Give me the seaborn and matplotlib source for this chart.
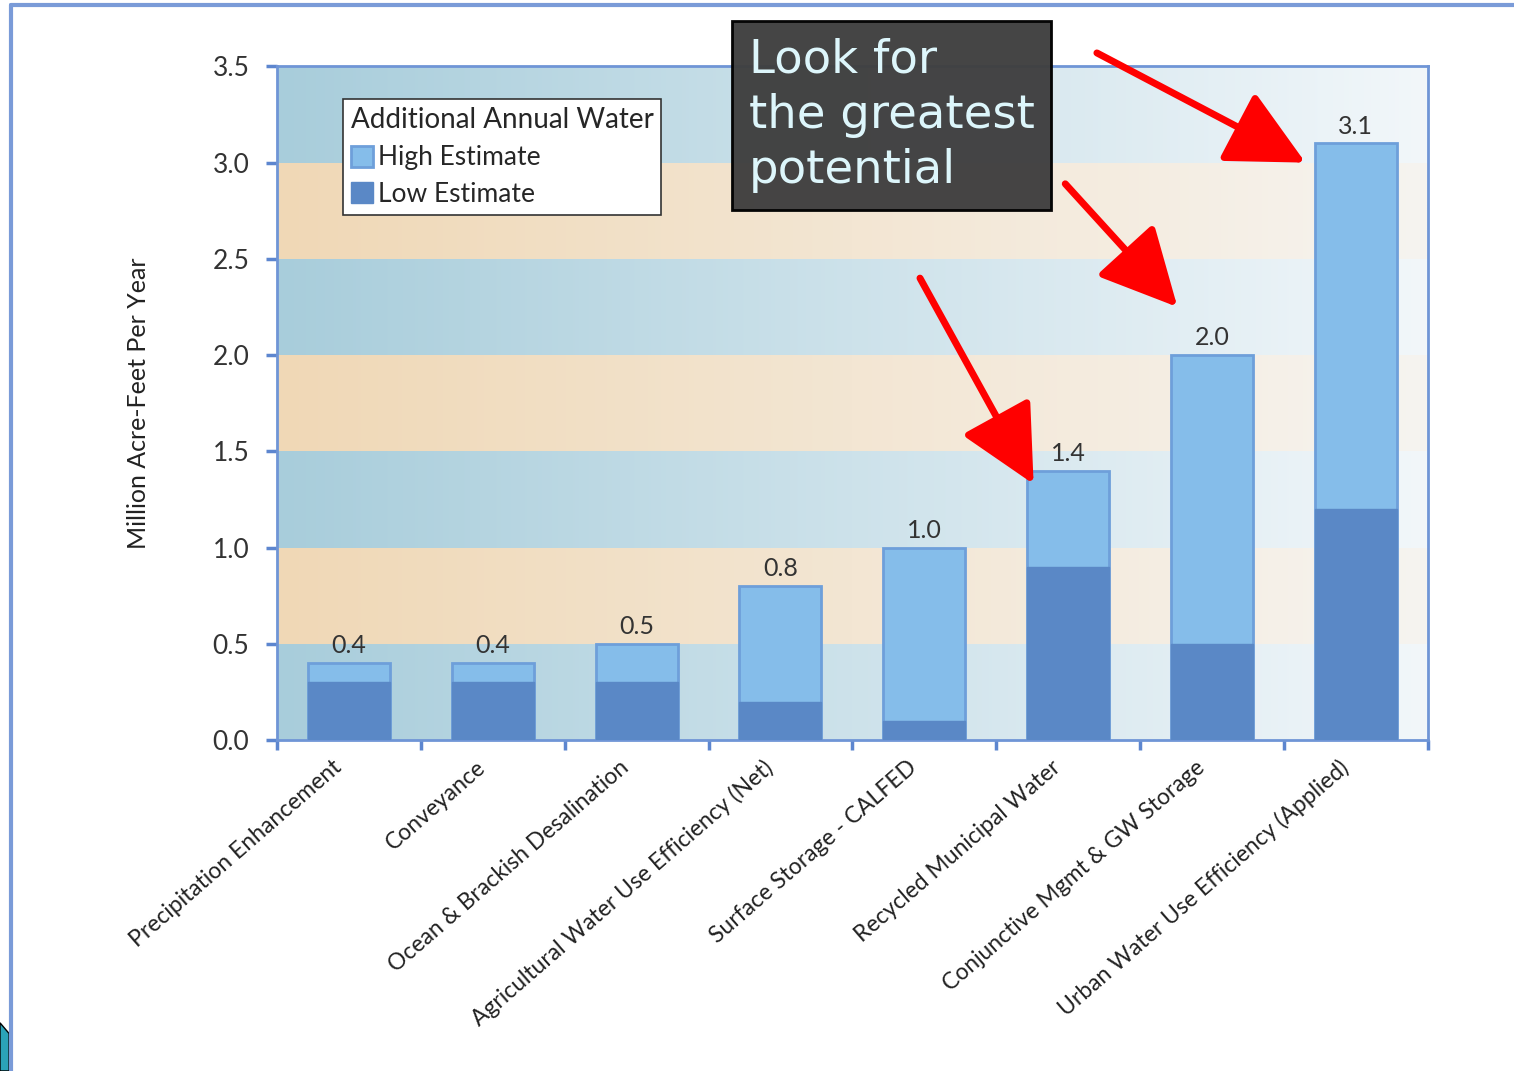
import numpy as np
import pandas as pd
import seaborn as sns
import matplotlib.pyplot as plt
from matplotlib.lines import Line2D
from matplotlib.patches import Polygon

# Dados do gráfico
categorias = ["Precipitation Enhancement", "Conveyance", "Ocean & Brackish Desalination",
              "Agricultural Water Use Efficiency (Net)", "Surface Storage - CALFED",
              "Recycled Municipal Water", "Conjunctive Mgmt & GW Storage",
              "Urban Water Use Efficiency (Applied)"]
alta = [0.4, 0.4, 0.5, 0.8, 1.0, 1.4, 2.0, 3.1]
baixa = [0.3, 0.3, 0.3, 0.2, 0.1, 0.9, 0.5, 1.2]
y_ticks = [0.0, 0.5, 1.0, 1.5, 2.0, 2.5, 3.0, 3.5]

df = pd.DataFrame({"Categoria": categorias, "Alta": alta, "Baixa": baixa})

sns.set_style("white")
plt.rcParams['font.family'] = ['Lato', 'DejaVu Sans']

fig = plt.figure(figsize=(15.14, 10.71), dpi=100)
ax = fig.add_axes([0.183, 0.309, 0.760, 0.629])

# Faixas de fundo com gradiente horizontal
azul_esq, azul_dir = np.array([168, 205, 219]) / 255, np.array([242, 247, 250]) / 255
lar_esq, lar_dir = np.array([240, 216, 182]) / 255, np.array([246, 244, 240]) / 255
t = np.linspace(0, 1, 300)[None, :, None]
for k in range(len(y_ticks) - 1):
    c0, c1 = (azul_esq, azul_dir) if k % 2 == 0 else (lar_esq, lar_dir)
    grad = c0 + (c1 - c0) * t
    ax.imshow(grad, extent=(-0.5, len(categorias) - 0.5, y_ticks[k], y_ticks[k + 1]),
              aspect="auto", zorder=0, interpolation="bilinear")

sns.barplot(data=df, x="Categoria", y="Alta", color="#85BDEA", saturation=1,
            width=0.57, edgecolor="#6E9FDA", linewidth=2, label="High Estimate", ax=ax, zorder=2)
sns.barplot(data=df, x="Categoria", y="Baixa", color="#5A88C6", saturation=1,
            width=0.57, edgecolor="#5A88C6", linewidth=1, label="Low Estimate", ax=ax, zorder=3)

for i, v in enumerate(alta):
    ax.text(i, v + 0.03, f"{v:.1f}", ha="center", va="bottom", fontsize=18, color="#333333", zorder=4)

ax.set_xlim(-0.5, len(categorias) - 0.5)
ax.set_ylim(0, 3.5)
ax.set_yticks(y_ticks)
ax.set_yticklabels([f"{v:.1f}" for v in y_ticks], fontsize=19, color="#333333")
# rótulos levemente à esquerda do centro da barra, como no original
ax.set_xticks(np.arange(len(categorias)) - 0.12)
ax.set_xticklabels(categorias, rotation=41, ha="right", rotation_mode="anchor",
                   fontsize=16.5, color="#222222")
ax.tick_params(axis="x", length=0, pad=12)
ax.set_xticks(np.arange(-0.5, len(categorias)), minor=True)
ax.tick_params(axis="x", which="minor", length=7, width=2.5, color="#5D86CF", direction="out", bottom=True)
ax.tick_params(axis="y", length=8, width=2.5, color="#5D86CF", direction="out", left=True, pad=12)
ax.set_xlabel("")
ax.set_ylabel("Million Acre-Feet Per Year", fontsize=18, color="#222222", labelpad=45)
for s in ax.spines.values():
    s.set_color("#6F95D6")
    s.set_linewidth(2)

leg = ax.legend(loc="upper left", bbox_to_anchor=(0.057, 0.951), title="Additional Annual Water",
                fontsize=19, title_fontsize=20, frameon=True, fancybox=False, shadow=False,
                handlelength=0.85, handleheight=0.85, handletextpad=0.2, borderpad=0.3,
                labelspacing=0.45, alignment="left", borderaxespad=0)
leg.get_frame().set_edgecolor("#333333")
leg.get_frame().set_linewidth(1.2)
leg.get_frame().set_facecolor("white")
leg.get_frame().set_alpha(1)

# Caixa de texto
fig.text(0.4945, 0.965, "Look for\nthe greatest\npotential", fontsize=33.5, color="#DDF6FB",
         family=["DejaVu Sans"], va="top", ha="left", linespacing=1.3,
         bbox=dict(boxstyle="square,pad=0.36", facecolor="#3F3F3F", edgecolor="black", linewidth=2, alpha=0.97),
         zorder=10)

# Setas vermelhas
setas = [((5.20, 3.57), (6.65, 3.00)), ((4.98, 2.89), (5.76, 2.25)), ((3.97, 2.40), (4.76, 1.33))]
for (x0, y0), (x1, y1) in setas:
    ax.annotate("", xy=(x1, y1), xytext=(x0, y0), annotation_clip=False,
                arrowprops=dict(arrowstyle="-|>,head_length=1.6,head_width=0.8", color="#FF0000",
                                lw=5, mutation_scale=30, shrinkA=0, shrinkB=0), zorder=11)

# Moldura do slide
fig.add_artist(Line2D([0.0072, 0.0072], [0, 0.995], color="#7A9BD8", lw=3))
fig.add_artist(Line2D([0.0072, 1.0], [0.995, 0.995], color="#7A9BD8", lw=3))
fig.add_artist(Polygon([[0, 0], [0.006, 0], [0.006, 0.035], [0, 0.045]], closed=True,
                       facecolor="#2BA3B8", edgecolor="black", lw=1))

fig.savefig("out.png", dpi=100)
